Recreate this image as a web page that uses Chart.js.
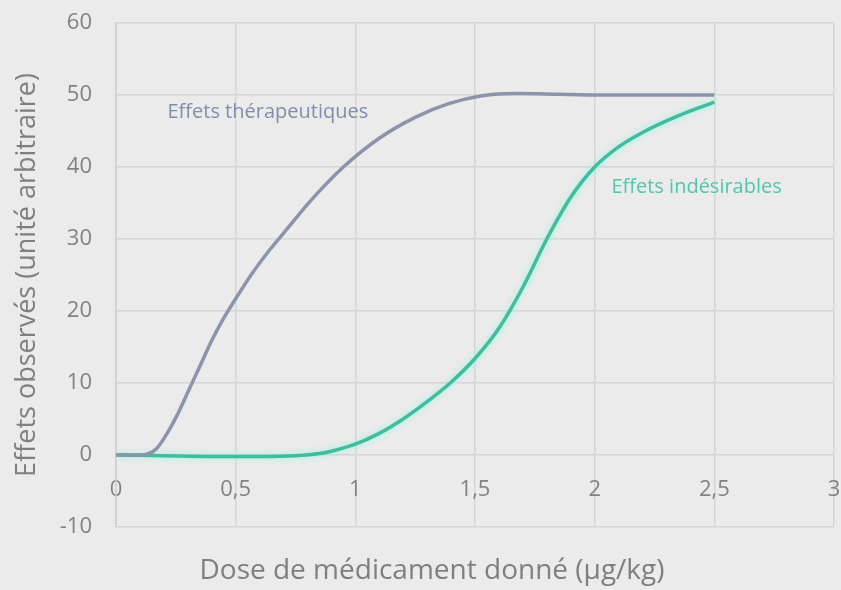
<!DOCTYPE html>
<html lang="fr">
<head>
<meta charset="UTF-8">
<title>Effets d'un médicament selon la dose</title>
<script src="https://cdn.jsdelivr.net/npm/chart.js"></script>
<style>
  html, body { margin: 0; padding: 0; background: #ebebeb; }
  #wrap { width: 841px; height: 590px; }
</style>
</head>
<body>
<div id="wrap"><canvas id="doseChart"></canvas></div>
<script>
// dose (µg/kg) and observed effect (arbitrary units) for each curve
const therapDose   = [0, 0.1, 0.13, 0.17, 0.21, 0.255, 0.3, 0.35, 0.4, 0.45, 0.5, 0.56, 0.64, 0.72, 0.81, 0.95, 1.1, 1.25, 1.39, 1.53, 1.67, 1.85, 2.0, 2.25, 2.5];
const therapEffect = [0, 0, 0.1, 0.9, 2.8, 5.5, 8.7, 12.3, 15.9, 19.0, 21.7, 24.8, 28.4, 31.6, 35.2, 40, 44, 46.9, 48.8, 49.9, 50.2, 50.1, 50, 50, 50];

const sideDose   = [0, 0.2, 0.4, 0.6, 0.75, 0.85, 0.92, 1.0, 1.1, 1.2, 1.3, 1.4, 1.5, 1.6, 1.7, 1.8, 1.9, 2.0, 2.1, 2.2, 2.3, 2.4, 2.5];
const sideEffect = [0, -0.1, -0.2, -0.2, -0.1, 0.2, 0.7, 1.5, 3.0, 5.0, 7.4, 10.1, 13.4, 17.6, 23.3, 30.0, 35.8, 40.0, 42.8, 44.8, 46.4, 47.8, 49];

const seriesNames = ['Effets thérapeutiques', 'Effets indésirables'];
const xTicks = [0, 0.5, 1, 1.5, 2, 2.5, 3];
const yTicks = [-10, 0, 10, 20, 30, 40, 50, 60];
const xTitle = 'Dose de médicament donné (µg/kg)';
const yTitle = 'Effets observés (unité arbitraire)';

const toPoints = (xs, ys) => xs.map((x, i) => ({ x: x, y: ys[i] }));
const fmt = v => String(v).replace('.', ',');

// curve labels, anchored in data coordinates
const curveLabels = [
    { text: seriesNames[0], x: 0.215, y: 47.6, color: '#858cab' },
    { text: seriesNames[1], x: 2.07, y: 37.2, color: '#4fc8aa' }
];

const labelPlugin = {
    id: 'curveLabels',
    afterDatasetsDraw(chart) {
        const { ctx, scales, chartArea } = chart;
        ctx.save();
        ctx.font = '20px "Open Sans"';
        ctx.textBaseline = 'middle';
        ctx.textAlign = 'left';
        curveLabels.forEach(l => {
            ctx.fillStyle = l.color;
            ctx.fillText(l.text, scales.x.getPixelForValue(l.x), scales.y.getPixelForValue(l.y));
        });
        // x axis title, sitting a little left of the plot centre
        ctx.font = '28px "Open Sans"';
        ctx.fillStyle = '#7f7f7f';
        ctx.textAlign = 'center';
        ctx.fillText(xTitle, (chartArea.left + chartArea.right) / 2 - 43, chart.height - 19);
        ctx.restore();
    }
};

// soft halo around the teal curve
const glowPlugin = {
    id: 'glow',
    beforeDatasetDraw(chart, args) {
        if (args.index !== 1) return;
        chart.ctx.save();
        chart.ctx.shadowColor = 'rgba(140, 245, 225, 0.95)';
        chart.ctx.shadowBlur = 6;
    },
    afterDatasetDraw(chart, args) {
        if (args.index !== 1) return;
        chart.ctx.restore();
    }
};

const noPad = s => { s.paddingTop = 0; s.paddingBottom = 0; s.paddingLeft = 0; s.paddingRight = 0; };

new Chart(document.getElementById('doseChart'), {
    type: 'line',
    data: {
        datasets: [
            {
                label: seriesNames[0],
                data: toPoints(therapDose, therapEffect),
                borderColor: '#8c93aa',
                borderWidth: 3.5,
                pointRadius: 0,
                cubicInterpolationMode: 'monotone'
            },
            {
                label: seriesNames[1],
                data: toPoints(sideDose, sideEffect),
                borderColor: '#3fbd9d',
                borderWidth: 3.5,
                pointRadius: 0,
                cubicInterpolationMode: 'monotone'
            }
        ]
    },
    options: {
        responsive: true,
        maintainAspectRatio: false,
        animation: false,
        layout: { padding: { top: 23, right: 7, bottom: 0, left: 0 } },
        plugins: {
            legend: { display: false },
            tooltip: { enabled: false }
        },
        scales: {
            x: {
                type: 'linear',
                min: 0,
                max: 3,
                afterBuildTicks: s => { s.ticks = xTicks.map(v => ({ value: v })); },
                afterFit: s => { s.height = 63; noPad(s); },
                ticks: { display: false },
                grid: { color: '#d6d6d6', lineWidth: 1.5, drawTicks: false },
                border: { display: false }
            },
            xLabels: {
                type: 'linear',
                min: 0,
                max: 3,
                position: { y: 0 },
                afterBuildTicks: s => { s.ticks = xTicks.map(v => ({ value: v })); },
                afterFit: noPad,
                ticks: {
                    color: '#828282',
                    font: { family: 'Open Sans', size: 22 },
                    padding: 22,
                    maxRotation: 0,
                    callback: v => fmt(v)
                },
                grid: { display: false, drawTicks: false },
                border: { display: false }
            },
            y: {
                min: -10,
                max: 60,
                afterBuildTicks: s => { s.ticks = yTicks.map(v => ({ value: v })); },
                afterFit: s => { s.width = 116; noPad(s); },
                ticks: {
                    color: '#828282',
                    font: { family: 'Open Sans', size: 22 },
                    padding: 24
                },
                grid: { color: '#d6d6d6', lineWidth: 1.5, drawTicks: false },
                border: { color: '#cfcfcf', width: 1.5 },
                title: {
                    display: true,
                    text: yTitle,
                    color: '#7f7f7f',
                    font: { family: 'Open Sans', size: 27 },
                    padding: { top: 11, bottom: 0 }
                }
            }
        }
    },
    plugins: [glowPlugin, labelPlugin]
});
</script>
</body>
</html>
